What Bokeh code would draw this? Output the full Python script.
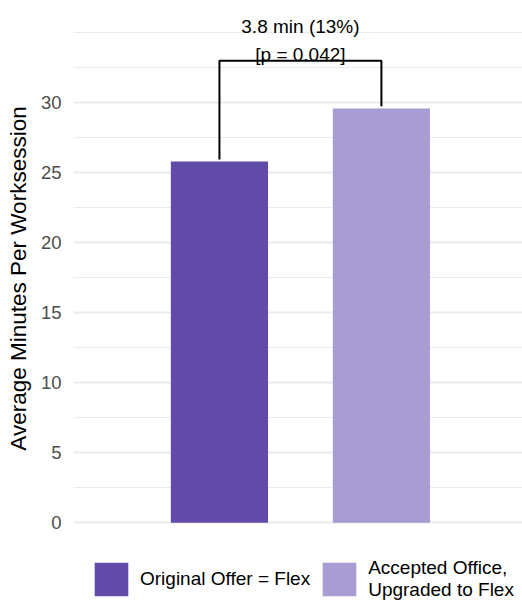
from bokeh.plotting import figure
from bokeh.layouts import column
from bokeh.models import Range1d, FixedTicker, Legend, LegendItem, ColumnDataSource
from bokeh.core.properties import value
from bokeh.embed import file_html
from bokeh.resources import INLINE

# ---- data ----
categories = ["Original Offer = Flex", "Accepted Office,\nUpgraded to Flex"]
minutes = [25.8, 29.6]
bar_colors = ["#604CA8", "#A99CD3"]
diff_label = "3.8 min (13%)"
p_label = "[p = 0.042]"
y_ticks = [0, 5, 10, 15, 20, 25, 30]
y_minor = [2.5, 7.5, 12.5, 17.5, 22.5, 27.5, 32.5, 35]
bracket_top = 33.0
y_title = "Average Minutes Per Worksession"

FONT = "Liberation Sans"
x_pos = [1, 2]
leg_gap = 0.15

src = ColumnDataSource(dict(x=x_pos, top=minutes, color=bar_colors, cat=categories))

p = figure(width=522, height=548, output_backend="svg", toolbar_location=None,
           x_range=Range1d(0.099, 2.871), y_range=Range1d(-1.836, 36.736),
           min_border_left=73, min_border_right=0, min_border_top=8,
           min_border_bottom=0, background_fill_color="white",
           border_fill_color="white")

bars = p.vbar(x="x", top="top", width=0.6, bottom=0, source=src,
              fill_color="color", line_color=None)

# bracket
p.line(x=[x_pos[0], x_pos[0], x_pos[1], x_pos[1]],
       y=[minutes[0] + leg_gap, bracket_top, bracket_top, minutes[1] + leg_gap],
       line_color="black", line_width=2)

mid = (x_pos[0] + x_pos[1]) / 2
p.text(x=[mid], y=[bracket_top + 2.45], text=[diff_label], text_align="center",
       text_baseline="alphabetic", text_font=value(FONT), text_font_size="19px",
       text_color="black")
p.text(x=[mid], y=[bracket_top + 0.45], text=[p_label], text_align="center",
       text_baseline="alphabetic", text_font=value(FONT), text_font_size="19px",
       text_color="black")

ticker = FixedTicker(ticks=y_ticks, minor_ticks=y_minor)
p.yaxis.ticker = ticker
p.ygrid.ticker = ticker
p.yaxis.axis_label = y_title
p.yaxis.axis_label_text_font = FONT
p.yaxis.axis_label_text_font_size = "22.5px"
p.yaxis.axis_label_text_font_style = "normal"
p.yaxis.axis_label_text_color = "black"
p.yaxis.axis_label_standoff = 7
p.yaxis.axis_line_color = None
p.yaxis.major_tick_line_color = None
p.yaxis.minor_tick_line_color = None
p.yaxis.major_tick_out = 0
p.yaxis.major_tick_in = 0
p.yaxis.minor_tick_out = 0
p.yaxis.minor_tick_in = 0
p.yaxis.major_label_text_font = FONT
p.yaxis.major_label_text_font_size = "18.5px"
p.yaxis.major_label_text_color = "#4D4D4D"
p.yaxis.major_label_standoff = 12
p.xaxis.visible = False

p.ygrid.grid_line_color = "#EBEBEB"
p.ygrid.grid_line_width = 1.8
p.ygrid.minor_grid_line_color = "#EBEBEB"
p.ygrid.minor_grid_line_width = 1
p.xgrid.visible = False
p.outline_line_color = None

# ---- legend strip (separate figure below the plot) ----
# ranges chosen so the helper bars fall far outside the visible area;
# they exist only to supply the legend swatches
pleg = figure(width=522, height=56, output_backend="svg", toolbar_location=None,
              x_range=Range1d(1000, 1522), y_range=Range1d(1000, 1056),
              x_axis_type=None, y_axis_type=None,
              min_border_left=73, min_border_right=0, min_border_top=0,
              min_border_bottom=0, background_fill_color="white",
              border_fill_color="white")
pleg.grid.visible = False
pleg.outline_line_color = None
leg_bars = pleg.vbar(x="x", top="top", width=0.6, bottom=0, source=src,
                     fill_color="color", line_color=None)

items = [LegendItem(label=categories[i], renderers=[leg_bars], index=i) for i in range(2)]
legend = Legend(items=items, orientation="horizontal", location=(17, 3),
                glyph_width=42, glyph_height=42, label_standoff=8, spacing=8,
                padding=0, margin=0, border_line_alpha=0, background_fill_alpha=0,
                label_text_font=FONT, label_text_font_size="19px",
                label_text_color="black")
pleg.add_layout(legend)

layout = column(p, pleg, spacing=0)
open("out.html", "w").write(file_html(layout, INLINE))
